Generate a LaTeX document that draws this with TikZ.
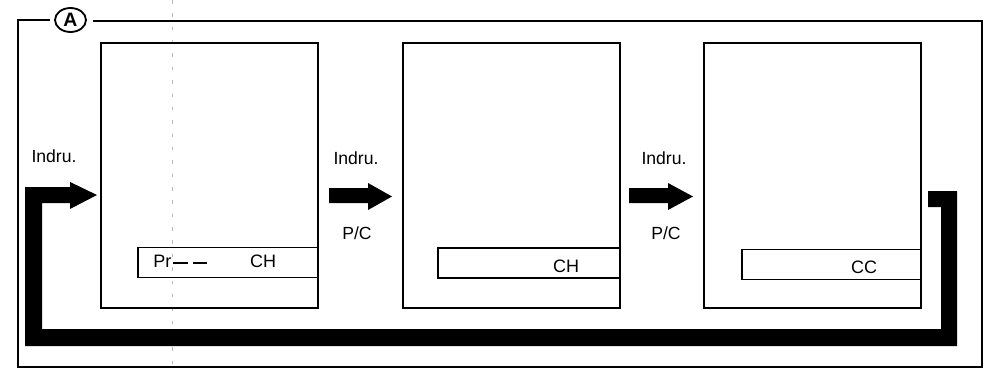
\documentclass[tikz,border=0pt]{standalone}
\usepackage{fontspec}
\setmainfont{Liberation Sans}
\usetikzlibrary{shapes.geometric}
\begin{document}
\begin{tikzpicture}[x=0.025cm,y=-0.025cm,
  panel/.style={draw, line width=1.4pt, minimum width=5.425cm, minimum height=6.625cm, inner sep=0pt, outer sep=0pt},
  bar/.style={draw, line width=1.1pt, minimum height=0.74cm, inner sep=0pt, outer sep=0pt, anchor=east},
  lbl/.style={font=\fontsize{12.5}{14}\selectfont, inner sep=0pt},
  bartext/.style={font=\fontsize{12.8}{14}\selectfont, inner sep=0pt, anchor=base},
  bigarrow/.style={fill=black, draw=none},
  framestyle/.style={line width=1.4pt},
  foldline/.style={gray!55, line width=0.5pt, dash pattern=on 2.5pt off 7pt}]
\useasboundingbox (0,0) rectangle (986,368);
% fold line of the original sheet
\coordinate (foldtop) at (172,0);
\coordinate (foldbot) at (172,368);
\draw[foldline] (foldtop) -- (foldbot);
% frame with label A
\node[ellipse, draw, line width=1.3pt, minimum width=0.775cm, minimum height=0.6cm, inner sep=0pt,
      font=\fontsize{13.8}{15}\selectfont\bfseries] (A) at (70.5,20) {A};
\coordinate (fa) at (50,20);
\coordinate (ftl) at (18,20);
\coordinate (fbl) at (18,367);
\coordinate (fbr) at (982,367);
\coordinate (ftr) at (982,21);
\coordinate (fb) at (93,21);
\draw[framestyle] (fa) -- (ftl) -- (fbl) -- (fbr) -- (ftr) -- (fb);
% panels
\node[panel] (p1) at (209.5,175.5) {};
\node[panel] (p2) at (511.5,175.5) {};
\node[panel] (p3) at (812.5,175.5) {};
% bars
\coordinate (y1) at (0,262.5);
\coordinate (y2) at (0,263);
\coordinate (y3) at (0,264.5);
\node[bar, minimum width=4.5cm] (b1) at (p1.east |- y1) {};
\node[bar, minimum width=4.55cm] (b2) at (p2.east |- y2) {};
\node[bar, minimum width=4.475cm] (b3) at (p3.east |- y3) {};
% bar texts
\node[bartext, anchor=base west] (pr) at (153,267) {Pr\hspace{0.1em}\rule[0.17em]{0.85em}{0.11em}\hspace{0.25em}\rule[0.17em]{0.8em}{0.11em}};
\node[bartext] (ch1) at (263,267) {CH};
\node[bartext] (ch2) at (566,272) {CH};
\node[bartext] (cc) at (864,273) {CC};
% labels
\node[lbl] (in1) at (54,156.5) {Indru.};
\node[lbl] (in2) at (356,158.5) {Indru.};
\node[lbl] (pc1) at (357,233.5) {P/C};
\node[lbl] (in3) at (664,158.5) {Indru.};
\node[lbl] (pc2) at (666,233.5) {P/C};
% arrow p1 -> p2
\fill[bigarrow] (329,188) -- (368,188) -- (368,183) -- (392,196.5) -- (368,210) -- (368,203) -- (329,203) -- cycle;
% arrow p2 -> p3
\fill[bigarrow] (629,188) -- (668,188) -- (668,183) -- (693,196.5) -- (668,210) -- (668,203) -- (629,203) -- cycle;
% loop arrow p3 -> p1
\fill[bigarrow] (928,191) -- (957,191) -- (957,346) -- (25,346) -- (25,187) -- (70,187) -- (70,182)
   -- (97,195) -- (70,209) -- (70,203) -- (42,203) -- (42,329) -- (941,329) -- (941,207) -- (928,207) -- cycle;
\end{tikzpicture}
\end{document}
